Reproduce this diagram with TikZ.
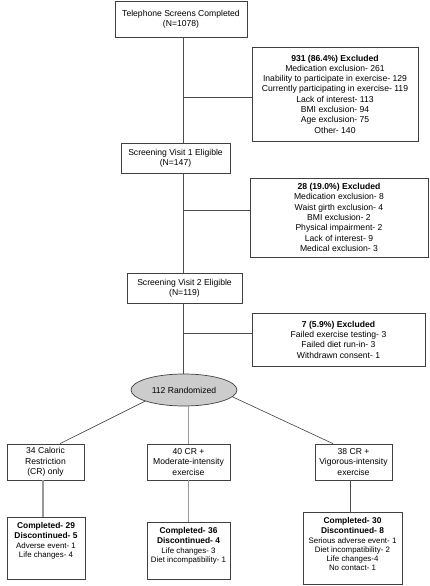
\documentclass[tikz,border=0pt]{standalone}
\usepackage{fontspec}
\setmainfont{Liberation Sans}
\usepackage{tikz}
\usetikzlibrary{arrows,positioning,fit,shapes,calc}

% outcome box text: height, width, bold lines, reasons
\newcommand{\resbox}[4]{\parbox[b][#1][t]{#2}{\centering\vspace*{5.5pt}%
{\fontsize{8.4}{10.3}\selectfont\bfseries #3\par}\vspace{1pt}%
{\fontsize{7.9}{9}\selectfont #4\par}}}

\begin{document}
\begin{tikzpicture}[x=1pt,y=-1pt]
\tikzset{el/.style={draw=black!75, line width=0.7pt, rectangle, align=center, inner sep=1pt, font=\fontsize{8.6}{10.3}\selectfont}}
\tikzset{res/.style={draw=black!75, line width=0.7pt, rectangle, inner sep=0pt}}
\tikzset{trunk/.style={draw=black!70, line width=0.9pt}}
\tikzset{arm/.style={draw=black!40, line width=1.1pt}}

\useasboundingbox (0,0) rectangle (430,586);

% Screening steps
\node[el, minimum width=132pt, minimum height=36pt] (tel) at (181,19) {Telephone Screens Completed\\(N=1078)};
\node[el, minimum width=109pt, minimum height=30pt] (sv1) at (175.5,158) {Screening Visit 1 Eligible\\(N=147)};
\node[el, minimum width=115pt, minimum height=30pt] (sv2) at (184.5,288) {Screening Visit 2 Eligible\\(N=119)};
\coordinate (spine) at (183,0);

% Exclusions
\node[el, minimum width=166pt, minimum height=94pt] (excA) at (335,94)
{\textbf{931 (86.4\%) Excluded}\\Medication exclusion- 261\\Inability to participate in exercise- 129\\Currently participating in exercise- 119\\Lack of interest- 113\\BMI exclusion- 94\\Age exclusion- 75\\Other- 140};
\node[el, minimum width=178pt, minimum height=79pt] (excB) at (339,217.5)
{\textbf{28 (19.0\%) Excluded}\\Medication exclusion- 8\\Waist girth exclusion- 4\\BMI exclusion- 2\\Physical impairment- 2\\Lack of interest- 9\\Medical exclusion- 3};
\node[el, minimum width=173pt, minimum height=53pt] (excC) at (338.5,339.5)
{\textbf{7 (5.9\%) Excluded}\\Failed exercise testing- 3\\Failed diet run-in- 3\\Withdrawn consent- 1};

% Randomization
\node[draw=black!75, line width=0.7pt, ellipse, fill=black!20, minimum width=106pt, minimum height=32pt, font=\fontsize{8.6}{10.3}\selectfont] (rand) at (184,390) {112 Randomized};

% Study arms
\node[el, minimum width=77pt, minimum height=36pt] (armA) at (45.5,462) {34 Caloric\\Restriction\\(CR) only};
\node[el, minimum width=83pt, minimum height=36pt] (armB) at (188.5,462) {40 CR +\\Moderate-intensity\\exercise};
\node[el, minimum width=77pt, minimum height=36pt] (armC) at (353.5,462) {38 CR +\\Vigorous-intensity\\exercise};

% Outcomes
\node[res] (resA) at (46,548) {\resbox{62pt}{78pt}{Completed- 29\\Discontinued- 5}{Adverse event- 1\\Life changes- 4}};
\node[res] (resB) at (188.5,550.5) {\resbox{57pt}{83pt}{Completed- 36\\Discontinued- 4}{Life changes- 3\\Diet incompatibility- 1}};
\node[res] (resC) at (352.5,548) {\resbox{72pt}{99pt}{Completed- 30\\Discontinued- 8}{Serious adverse event- 1\\Diet incompatibility- 2\\Life changes-4\\No contact- 1}};

% Connections
\draw[trunk] (spine |- tel.south) -- (spine |- sv1.north);
\draw[trunk] (spine |- sv1.south) -- (spine |- sv2.north);
\draw[trunk] (spine |- sv2.south) -- (spine |- rand.north);
\draw[trunk] (spine |- excA.west) ++(0,3) -- ([yshift=-3pt]excA.west);
\draw[trunk] (spine |- excB.west) ++(0,-7.5) -- ([yshift=7.5pt]excB.west);
\draw[trunk] (spine |- excC.west) ++(0,-6) -- ([yshift=6pt]excC.west);

\draw[draw=black!75, line width=0.6pt] (rand.196) -- ([xshift=14.5pt]armA.north);
\draw[arm] (armB.north |- rand.south) -- (armB.north);
\draw[draw=black!75, line width=0.6pt] (rand.-8) -- ([xshift=-20.5pt]armC.north);

\draw[arm] ([xshift=-2.5pt]armA.south) -- ([xshift=-3pt]resA.north);
\draw[arm] (armB.south) -- (resB.north);
\draw[trunk] ([xshift=-3.5pt]armC.south) -- ([xshift=-2.5pt]resC.north);

\end{tikzpicture}
\end{document}
